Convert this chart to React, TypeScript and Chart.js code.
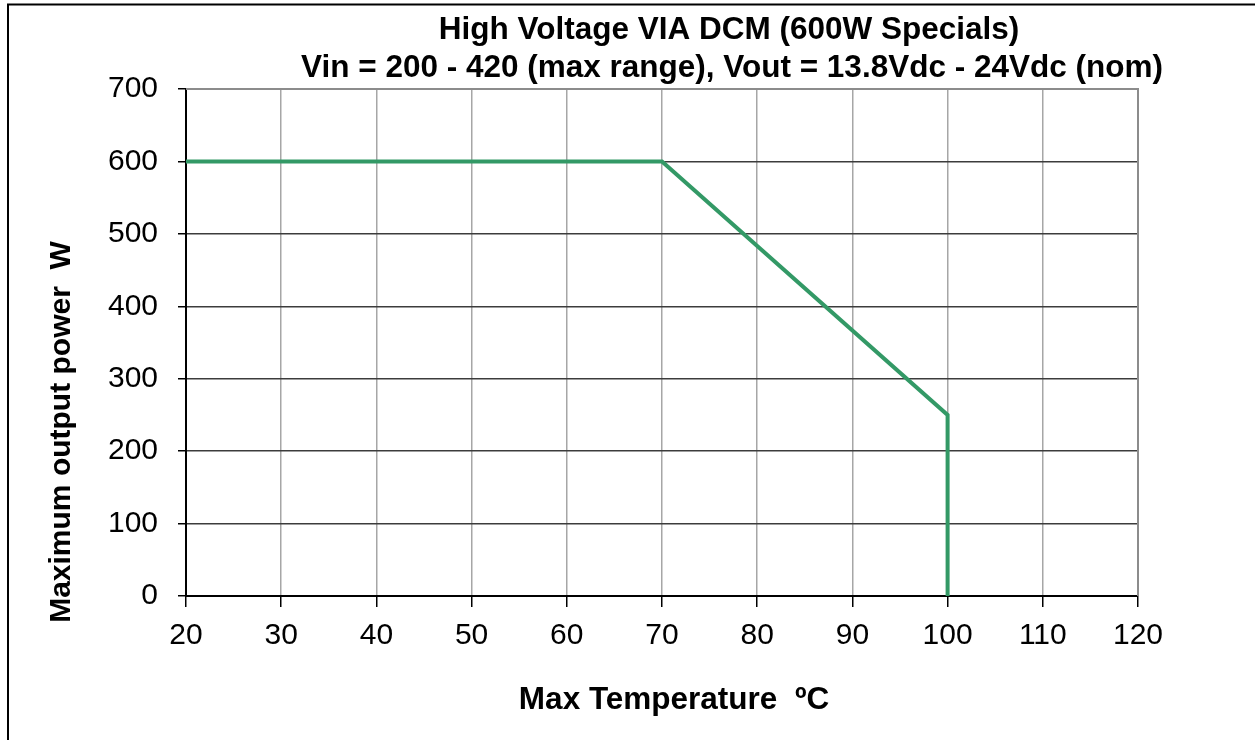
import React, { useEffect, useRef } from "react";
import { Chart, registerables } from "chart.js";

Chart.register(...registerables);

const temperatures: number[] = [20, 70, 100, 100];
const maxPower: number[] = [600, 600, 250, 0];
const titleLines: string[] = [
  "High Voltage VIA DCM (600W Specials)",
  "Vin = 200 - 420 (max range), Vout = 13.8Vdc - 24Vdc (nom)",
];
const xAxisTitle = "Max Temperature  \u00baC";
const yAxisTitle = "Maximum output power  W";
const xMin = 20;
const xMax = 120;
const xStep = 10;
const yMin = 0;
const yMax = 700;
const yStep = 100;

const FONT = "'Liberation Sans', Arial, sans-serif";

const decorPlugin = {
  id: "decor",
  beforeDraw(chart: any) {
    const ctx = chart.ctx;
    ctx.save();
    ctx.fillStyle = "#ffffff";
    ctx.fillRect(0, 0, chart.width, chart.height);
    ctx.strokeStyle = "#000000";
    ctx.lineWidth = 2;
    ctx.beginPath();
    ctx.moveTo(8, 740);
    ctx.lineTo(8, 4.5);
    ctx.lineTo(1255, 4.5);
    ctx.stroke();
    ctx.restore();
  },
  afterDraw(chart: any) {
    const ctx = chart.ctx;
    const area = chart.chartArea;
    ctx.save();
    ctx.fillStyle = "#000000";
    ctx.font = `bold 31.5px ${FONT}`;
    ctx.textAlign = "center";
    ctx.textBaseline = "alphabetic";
    ctx.fillText(titleLines[0], 729, 39);
    ctx.fillText(titleLines[1], 732, 77);
    ctx.fillText(xAxisTitle, 674, 709);
    ctx.font = `bold 30px ${FONT}`;
    ctx.translate(70, 432);
    ctx.rotate(-Math.PI / 2);
    ctx.fillText(yAxisTitle, 0, 0);
    ctx.restore();
    // plot frame top/right in gray
    ctx.save();
    ctx.strokeStyle = "#8c8c8c";
    ctx.lineWidth = 2;
    ctx.beginPath();
    ctx.moveTo(area.left, area.top);
    ctx.lineTo(area.right, area.top);
    ctx.lineTo(area.right, area.bottom);
    ctx.stroke();
    ctx.restore();
  },
};

export default function App() {
  const canvasRef = useRef<HTMLCanvasElement | null>(null);

  useEffect(() => {
    if (!canvasRef.current) return;
    const chart = new Chart(canvasRef.current, {
      type: "line",
      data: {
        datasets: [
          {
            data: temperatures.map((t, i) => ({ x: t, y: maxPower[i] })),
            borderColor: "#339966",
            borderWidth: 4,
            pointRadius: 0,
            tension: 0,
            fill: false,
          },
        ],
      },
      options: {
        responsive: false,
        animation: false,
        events: [],
        layout: { padding: { top: 89, left: 0, right: 117, bottom: 0 } },
        plugins: {
          legend: { display: false },
          title: { display: false },
          tooltip: { enabled: false },
        },
        scales: {
          x: {
            type: "linear",
            min: xMin,
            max: xMax,
            ticks: {
              stepSize: xStep,
              color: "#000000",
              font: { family: FONT, size: 30 },
              padding: 11,
              maxRotation: 0,
            },
            grid: {
              color: "#a6a6a6",
              lineWidth: 1.5,
              tickLength: 11,
              tickColor: "#000000",
            },
            border: { color: "#000000", width: 2 },
            afterFit: (scale: any) => {
              scale.height = 144;
            },
          },
          y: {
            type: "linear",
            min: yMin,
            max: yMax,
            ticks: {
              stepSize: yStep,
              color: "#000000",
              font: { family: FONT, size: 30 },
              padding: 20,
            },
            grid: {
              color: (c: any) => (c.tick && c.tick.value === yMax ? "#8c8c8c" : "#3c3c3c"),
              lineWidth: 1.5,
              tickLength: 8,
              tickColor: "#000000",
            },
            border: { color: "#000000", width: 2 },
            afterFit: (scale: any) => {
              scale.width = 186;
            },
          },
        },
      },
      plugins: [decorPlugin],
    });
    return () => chart.destroy();
  }, []);

  return (
    <div style={{ position: "fixed", left: 0, top: 0, width: 1255, height: 740, background: "#fff" }}>
      <canvas ref={canvasRef} width={1255} height={740} style={{ display: "block" }} />
    </div>
  );
}
